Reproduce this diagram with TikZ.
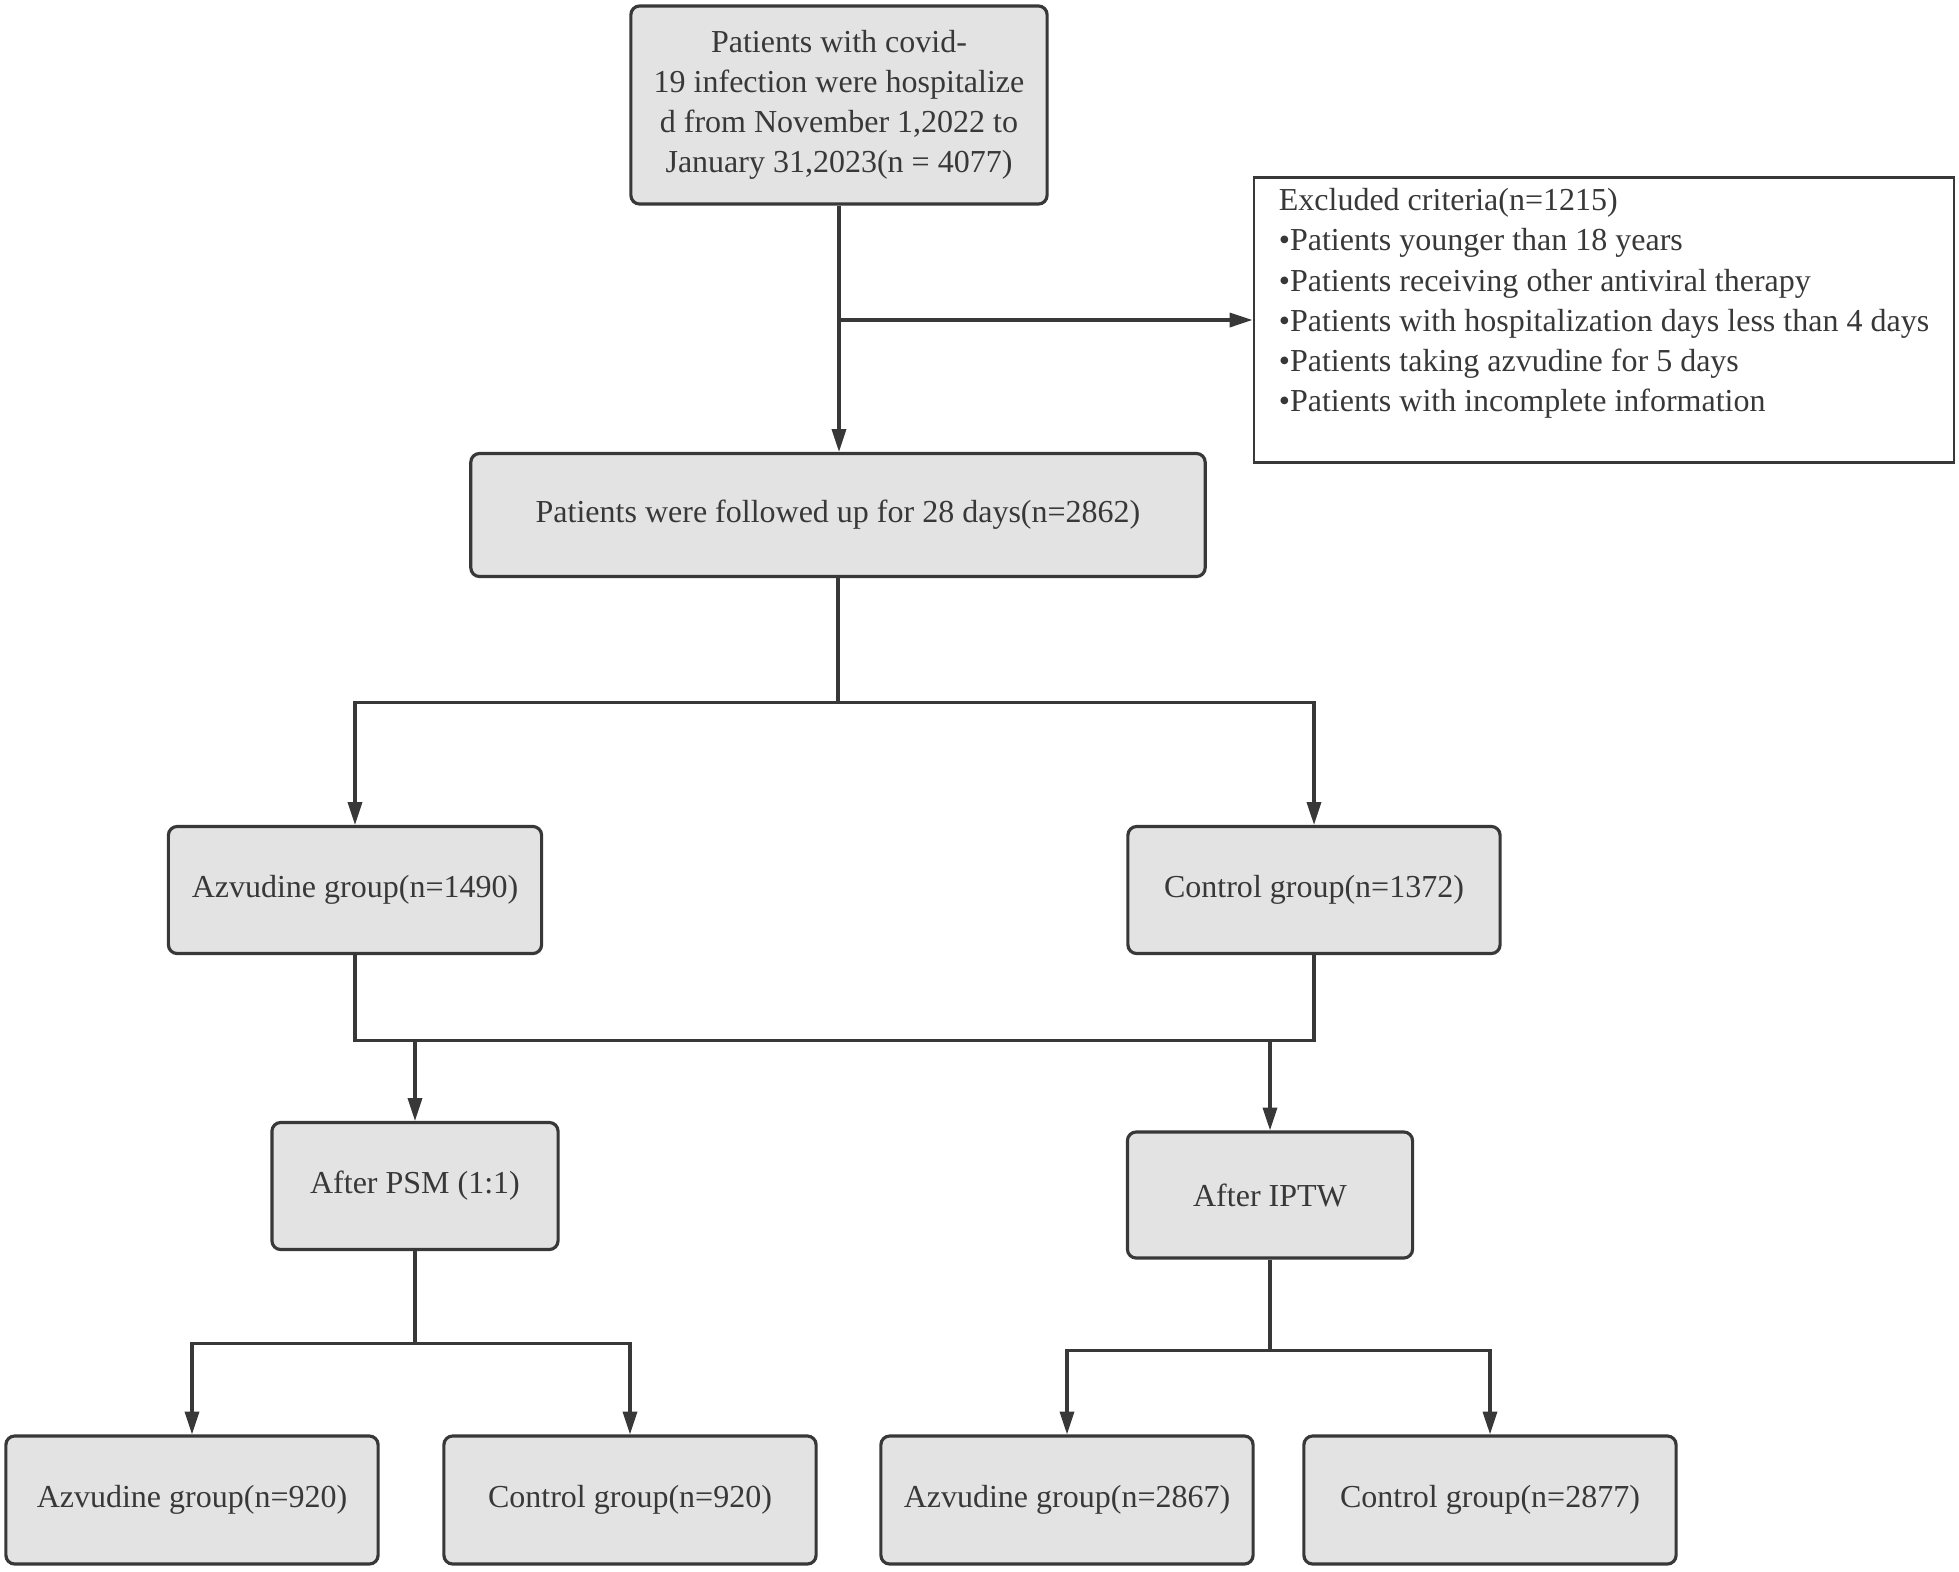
\documentclass[tikz,border=0pt]{standalone}
\usepackage{fontspec}
\setmainfont{Liberation Serif}
\usetikzlibrary{arrows.meta}
\definecolor{boxgray}{RGB}{227,227,227}
\definecolor{linegray}{RGB}{56,56,56}

\begin{document}
\begin{tikzpicture}[x=0.01cm,y=-0.01cm,
    flowbox/.style={draw=linegray,fill=boxgray,line width=0.9pt,rounded corners=2.5pt,
      align=center,inner sep=0pt,font=\fontsize{9.1}{11.4}\selectfont,text=linegray},
    exclbox/.style={draw=linegray,fill=white,line width=0.7pt,align=left,inner sep=0pt,
      minimum width=7cm,minimum height=2.85cm,font=\fontsize{9.1}{11.4}\selectfont,text=linegray},
    flowline/.style={draw=linegray,line width=0.9pt},
    flowarrow/.style={flowline,-{Triangle[length=6.5pt,width=4pt]}}]

    % Canvas
    \useasboundingbox (0,0) rectangle (1959,1572);

    % Screening
    \node[flowbox,minimum width=4.16cm,minimum height=1.98cm] (start) at (839,105)
      {Patients with covid-\\19 infection were hospitalize\\d from November 1,2022 to\\January 31,2023(n = 4077)};
    \node[exclbox] (excl) at (1604,320)
      {Excluded criteria(n=1215)\\
       •Patients younger than 18 years\\
       •Patients receiving other antiviral therapy\\
       •Patients with hospitalization days less than 4 days\\
       •Patients taking azvudine for 5 days\\
       •Patients with incomplete information\\ ~};
    \node[flowbox,minimum width=7.34cm,minimum height=1.23cm] (follow) at (838,515)
      {Patients were followed up for 28 days(n=2862)};

    % Groups
    \node[flowbox,minimum width=3.73cm,minimum height=1.27cm] (azv) at (355,890) {Azvudine group(n=1490)};
    \node[flowbox,minimum width=3.72cm,minimum height=1.27cm] (ctrl) at (1314,890) {Control group(n=1372)};

    % Adjustment
    \node[flowbox,minimum width=2.86cm,minimum height=1.27cm] (psm) at (415,1186) {After PSM (1:1)};
    \node[flowbox,minimum width=2.85cm,minimum height=1.26cm] (iptw) at (1270,1195) {After IPTW};

    % Results
    \node[flowbox,minimum width=3.72cm,minimum height=1.28cm] (azvpsm) at (192,1500) {Azvudine group(n=920)};
    \node[flowbox,minimum width=3.72cm,minimum height=1.28cm] (ctrlpsm) at (630,1500) {Control group(n=920)};
    \node[flowbox,minimum width=3.72cm,minimum height=1.28cm] (azviptw) at (1067,1500) {Azvudine group(n=2867)};
    \node[flowbox,minimum width=3.72cm,minimum height=1.28cm] (ctrliptw) at (1490,1500) {Control group(n=2877)};

    % Connectors
    \draw[flowarrow] (start.south) -- (start.south |- follow.north);
    \draw[flowarrow] (start.south |- excl.west) -- (excl.west);

    \draw[flowline] (follow.south) -- ++(0,124) coordinate (fork);
    \draw[flowarrow] (fork) -| (azv.north);
    \draw[flowarrow] (fork) -| (ctrl.north);

    \draw[flowline] (azv.south) -- ++(0,85) coordinate (merge) -| (ctrl.south);
    \draw[flowarrow] (psm.north |- merge) -- (psm.north);
    \draw[flowarrow] (iptw.north |- merge) -- (iptw.north);

    \draw[flowline] (psm.south) -- ++(0,92) coordinate (psmfork);
    \draw[flowarrow] (psmfork) -| (azvpsm.north);
    \draw[flowarrow] (psmfork) -| (ctrlpsm.north);

    \draw[flowline] (iptw.south) -- ++(0,91) coordinate (iptwfork);
    \draw[flowarrow] (iptwfork) -| (azviptw.north);
    \draw[flowarrow] (iptwfork) -| (ctrliptw.north);
\end{tikzpicture}
\end{document}
